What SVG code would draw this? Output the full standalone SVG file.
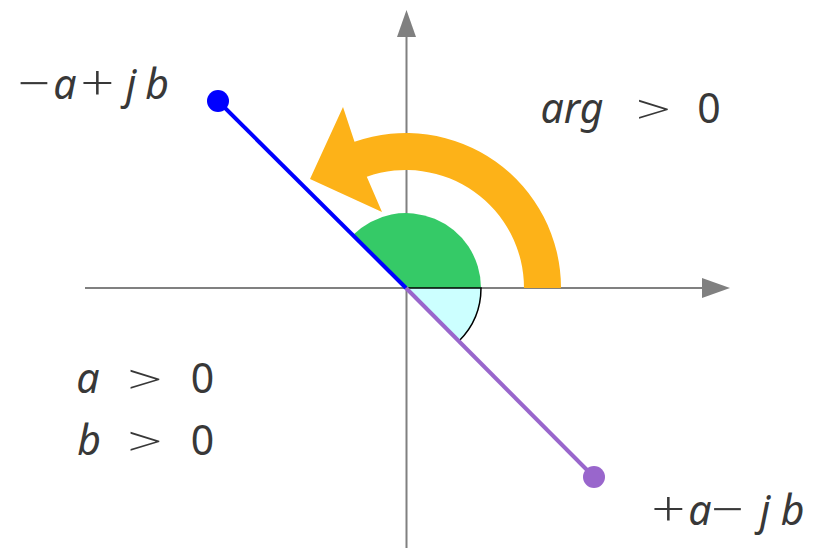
<svg xmlns="http://www.w3.org/2000/svg" width="815" height="549" viewBox="0 0 815 549">
<style>
.ax{stroke:#808080;stroke-width:2;fill:none}
.ah{fill:#808080}
.t{font-family:"Noto Sans","Open Sans",sans-serif;font-size:41px;fill:#383838;text-anchor:middle}
.i{font-style:italic}
.o{font-family:"Open Sans","Noto Sans",sans-serif;font-size:50px;font-weight:300;fill:#383838;text-anchor:middle}
.g{font-family:"Open Sans","Noto Sans",sans-serif;font-size:40px;font-weight:300;fill:#383838;text-anchor:middle}
</style>
<rect width="815" height="549" fill="#ffffff"/>
<g id="axes">
<line class="ax" x1="85" y1="288" x2="704" y2="288"/>
<polygon class="ah" points="702,278 730,288 702,298"/>
<line class="ax" x1="406.5" y1="548" x2="406.5" y2="35"/>
<polygon class="ah" points="397,37 406.5,10 416,37"/>
</g>
<g id="angles">
<path d="M406,288 L481,288 A75,75 0 0,0 353,235 Z" fill="#35ca67"/>
<path d="M406,288 L481,288 A75,75 0 0,1 459,341 Z" fill="#ccffff"/>
<path d="M406,288 L481,288 A75,75 0 0,1 459,341" fill="none" stroke="#000000" stroke-width="1.5"/>
</g>
<g id="arg-arrow">
<path d="M561,288 A155,155 0 0,0 354.5,141.8 L343,107 L310,179 L382,212 L366.8,176.7 A118,118 0 0,1 524,288 Z" fill="#fdb218"/>
</g>
<g id="connectors">
<line x1="218" y1="101" x2="406" y2="288" stroke="#0000ff" stroke-width="4"/>
<line x1="406" y1="288" x2="594" y2="477" stroke="#9966cc" stroke-width="4"/>
</g>
<g id="point-blue"><circle cx="218" cy="101" r="11" fill="#0000ff"/></g>
<g id="point-purple"><circle cx="594" cy="477" r="11" fill="#9966cc"/></g>
<g id="label-blue">
<text class="o" transform="translate(34,101) scale(1.15,1)">−</text>
<text class="t i" x="65" y="99">a</text>
<text class="o" transform="translate(97.5,101) scale(1.2,1)">+</text>
<text class="t i" x="131" y="99">j</text>
<text class="t i" x="157" y="99">b</text>
</g>
<g id="label-purple">
<text class="o" transform="translate(668.5,527) scale(1.2,1)">+</text>
<text class="t i" x="700" y="525">a</text>
<text class="o" transform="translate(727.5,527) scale(1.15,1)">−</text>
<text class="t i" x="765" y="525">j</text>
<text class="t i" x="792.5" y="525">b</text>
</g>
<g id="label-a">
<text class="t i" x="88" y="393">a</text>
<text class="g" transform="translate(145,394) scale(1.55,1)">&gt;</text>
<text class="t" x="202.5" y="393">0</text>
</g>
<g id="label-b">
<text class="t i" x="89" y="455">b</text>
<text class="g" transform="translate(145,456) scale(1.55,1)">&gt;</text>
<text class="t" x="202.5" y="455">0</text>
</g>
<g id="label-arg">
<text class="t i" x="572" y="123">arg</text>
<text class="g" transform="translate(653.5,124) scale(1.55,1)">&gt;</text>
<text class="t" x="709" y="123">0</text>
</g>
</svg>
